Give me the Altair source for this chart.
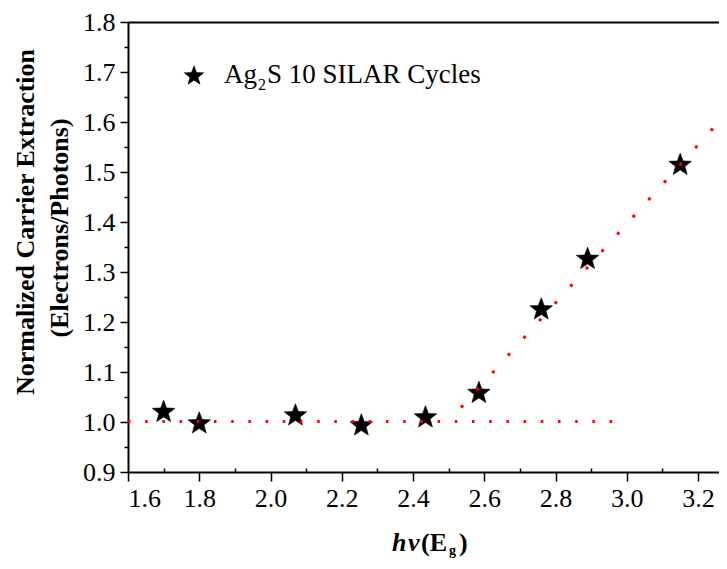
import math
import altair as alt
import pandas as pd

# ---- data ----
energy = [1.70, 1.80, 2.07, 2.255, 2.435, 2.585, 2.76, 2.89, 3.15]
extraction = [1.020, 0.997, 1.013, 0.993, 1.009, 1.058, 1.225, 1.326, 1.514]

flat_x = [1.60, 2.967]
flat_y = [1.001, 1.001]
fit_x = [2.535, 3.30]
fit_y = [1.029, 1.633]

x_major = [1.6, 1.8, 2.0, 2.2, 2.4, 2.6, 2.8, 3.0, 3.2]
x_minor = [1.7, 1.9, 2.1, 2.3, 2.5, 2.7, 2.9, 3.1]
y_major = [0.9, 1.0, 1.1, 1.2, 1.3, 1.4, 1.5, 1.6, 1.7, 1.8]
y_minor = [0.95, 1.05, 1.15, 1.25, 1.35, 1.45, 1.55, 1.65, 1.75]

legend_label = ["Ag", "2", "S 10 SILAR Cycles"]
y_title = ["Normalized Carrier Extraction", "(Electrons/Photons)"]

# ---- styling ----
W, H = 599, 450
FONT = "Liberation Serif"
X_DOMAIN = [1.6, 3.2814]
Y_DOMAIN = [0.9, 1.8]

pts = []
for k in range(10):
    r = 1.0 if k % 2 == 0 else 0.42
    a = math.radians(-90 + 36 * k)
    pts.append(f"{r*math.cos(a):.3f},{r*math.sin(a):.3f}")
STAR = "M" + "L".join(pts) + "Z"

xs = alt.Scale(domain=X_DOMAIN, nice=False, zero=False)
ys = alt.Scale(domain=Y_DOMAIN, nice=False, zero=False)

pts_df = pd.DataFrame({"e": energy, "v": extraction})
flat_df = pd.DataFrame({"e": flat_x, "v": flat_y})
fit_df = pd.DataFrame({"e": fit_x, "v": fit_y})

common_axis = dict(grid=False, title=None, domainColor="black", tickColor="black",
                   labelColor="black", labelFont=FONT, labelFontSize=26)

stars = alt.Chart(pts_df).mark_point(
    shape=STAR, filled=True, color="black", size=560, opacity=1,
    stroke="black", strokeWidth=0.6
).encode(
    x=alt.X("e:Q", scale=xs, axis=alt.Axis(orient="bottom", values=x_major, format=".1f",
                                           tickSize=9, tickWidth=1.5, domainWidth=2,
                                           labelPadding=4, **common_axis)),
    y=alt.Y("v:Q", scale=ys, axis=alt.Axis(orient="left", values=y_major, format=".1f",
                                           tickSize=8, tickWidth=1.5, domainWidth=2,
                                           labelPadding=5, **common_axis)),
)

flat = alt.Chart(flat_df).mark_line(
    color="red", strokeWidth=3, strokeDash=[2.5, 14.7], strokeCap="butt", clip=True
).encode(
    x=alt.X("e:Q", scale=xs, axis=alt.Axis(orient="top", labels=False, ticks=False,
                                           domainWidth=2, **common_axis)),
    y=alt.Y("v:Q", scale=ys, axis=alt.Axis(orient="left", values=y_minor, labels=False,
                                           domain=False, tickSize=4, tickWidth=1.5,
                                           **common_axis)),
)

fit = alt.Chart(fit_df).mark_line(
    color="red", strokeWidth=3, strokeDash=[3, 20.3], strokeCap="butt", clip=True
).encode(
    x=alt.X("e:Q", scale=xs, axis=alt.Axis(orient="bottom", values=x_minor, labels=False,
                                           domain=False, tickSize=4, tickWidth=1.5,
                                           offset=-4, **common_axis)),
    y=alt.Y("v:Q", scale=ys, axis=None),
)


def txt(s, x, y, size, weight="normal", style="normal", angle=0, align="left"):
    return alt.Chart(pd.DataFrame({"t": [s]})).mark_text(
        font=FONT, fontSize=size, fontWeight=weight, fontStyle=style, color="black",
        angle=angle, align=align, baseline="alphabetic"
    ).encode(text="t:N", x=alt.value(x), y=alt.value(y))


legend_star = alt.Chart(pd.DataFrame({"t": [legend_label[2]]})).mark_point(
    shape=STAR, filled=True, color="black", size=480, opacity=1
).encode(x=alt.value(66), y=alt.value(54))

texts = [
    txt(legend_label[0], 96, 61, 27),
    txt(legend_label[1], 130, 68, 16),
    txt(legend_label[2], 139, 61, 27),
    txt(y_title[0], -94, 200, 26, weight="bold", angle=270, align="center"),
    txt(y_title[1], -60, 206, 26, weight="bold", angle=270, align="center"),
    txt("h", 264, 529, 26, weight="bold", style="italic"),
    txt("ν", 280, 529, 26, weight="bold", style="italic"),
    txt("(E", 293, 529, 26, weight="bold"),
    txt("g", 321, 533, 14, weight="bold"),
    txt(")", 331, 529, 26, weight="bold"),
]

chart = alt.layer(stars, flat, fit, legend_star, *texts).resolve_scale(
    x="shared", y="shared"
).resolve_axis(
    x="independent", y="independent"
).properties(
    width=W, height=H,
    autosize=alt.AutoSizeParams(type="none"),
    padding={"left": 120, "top": 14, "right": -8, "bottom": 88},
    background="white",
).configure_view(strokeWidth=0)

chart.save("out.html", embed_options={"renderer": "svg", "actions": False})
